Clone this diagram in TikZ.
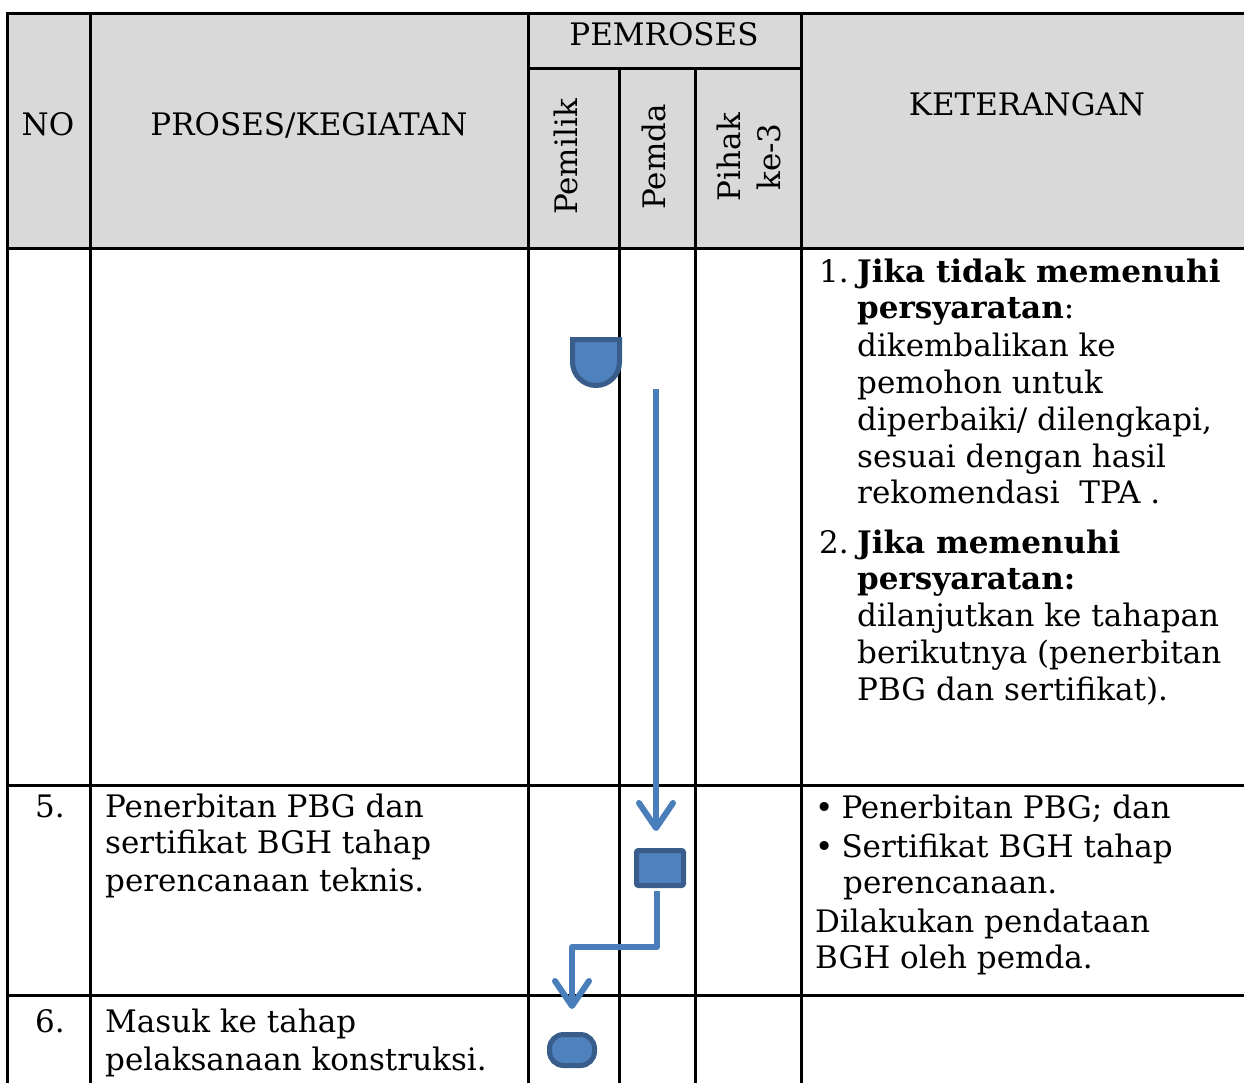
\documentclass[tikz,border=0pt]{standalone}
\usepackage{fontspec}
\setmainfont{DejaVu Serif}
\usetikzlibrary{arrows.meta}
\definecolor{hdr}{HTML}{D9D9D9}
\definecolor{shfill}{HTML}{4F81BD}
\definecolor{shline}{HTML}{385D8A}
\definecolor{conn}{HTML}{4A7EBB}
\begin{document}
\begin{tikzpicture}[x=1pt,y=-1pt,
  grid/.style={line width=3pt, black, line cap=rect},
  txt/.style={anchor=base west, inner sep=0pt, font=\fontsize{31}{37}\selectfont},
  ctxt/.style={anchor=base, inner sep=0pt, font=\fontsize{31}{37}\selectfont},
  rtxt/.style={anchor=base, inner sep=0pt, rotate=90, font=\fontsize{31}{37}\selectfont},
  shp/.style={draw=shline, fill=shfill, line width=5pt},
  flow/.style={draw=conn, line width=6pt, line join=round,
    -{Straight Barb[length=25pt, width=34pt, round]}}]
\useasboundingbox (0,0) rectangle (1244,1082);
% header background
\fill[hdr] (7,13) rectangle (1244,248);
% grid lines
\draw[grid] (7,13) -- (1244,13);
\draw[grid] (528,68) -- (801,68);
\draw[grid] (7,248) -- (1244,248);
\draw[grid] (7,785) -- (1244,785);
\draw[grid] (7,995) -- (1244,995);
\draw[grid] (7,13) -- (7,1082);
\draw[grid] (90,13) -- (90,1082);
\draw[grid] (528,13) -- (528,1082);
\draw[grid] (619,68) -- (619,1082);
\draw[grid] (695,68) -- (695,1082);
\draw[grid] (801,13) -- (801,1082);
% header texts
\node[ctxt] (no) at (48,135) {NO};
\node[ctxt] (proses) at (309,135) {PROSES/KEGIATAN};
\node[ctxt] (pemroses) at (664,45) {PEMROSES};
\node[ctxt] (ket) at (1027,115) {KETERANGAN};
\node[rtxt] (pemilik) at (577,157) {Pemilik};
\node[rtxt] (pemda) at (665,157) {Pemda};
\node[rtxt] (pihak) at (740,157) {Pihak};
\node[rtxt] (ke3) at (780,157) {ke-3};
% right column, row 4
\node[txt] (n1) at (819,282) {1.};
\node[txt] (a1) at (857,282) {\bfseries Jika tidak memenuhi};
\node[txt] (a2) at (857,318) {\textbf{persyaratan}:};
\node[txt] (a3) at (857,356) {dikembalikan ke};
\node[txt] (a4) at (857,393) {pemohon untuk};
\node[txt] (a5) at (857,430) {diperbaiki/ dilengkapi,};
\node[txt] (a6) at (857,467) {sesuai dengan hasil};
\node[txt] (a7) at (857,503) {rekomendasi\ \ TPA .};
\node[txt] (n2) at (819,553) {2.};
\node[txt] (b1) at (857,553) {\bfseries Jika memenuhi};
\node[txt] (b2) at (857,589) {\bfseries persyaratan:};
\node[txt] (b3) at (857,626) {dilanjutkan ke tahapan};
\node[txt] (b4) at (857,663) {berikutnya (penerbitan};
\node[txt] (b5) at (857,700) {PBG dan sertifikat).};
% row 5
\node[txt] (no5) at (35,817) {5.};
\node[txt] (p5a) at (105,817) {Penerbitan PBG dan};
\node[txt] (p5b) at (105,853) {sertifikat BGH tahap};
\node[txt] (p5c) at (105,891) {perencanaan teknis.};
\node[txt] (k5a) at (815,818) {\textbullet\hspace{8pt}Penerbitan PBG; dan};
\node[txt] (k5b) at (815,857) {\textbullet\hspace{8pt}Sertifikat BGH tahap};
\node[txt] (k5c) at (843,893) {perencanaan.};
\node[txt] (k5d) at (815,932) {Dilakukan pendataan};
\node[txt] (k5e) at (815,968) {BGH oleh pemda.};
% row 6
\node[txt] (no6) at (35,1032) {6.};
\node[txt] (p6a) at (105,1032) {Masuk ke tahap};
\node[txt] (p6b) at (105,1070) {pelaksanaan konstruksi.};
% flow shapes
\draw[shp] (572.5,339.5) -- (619.5,339.5) -- (619.5,362)
  arc[start angle=0, end angle=180, radius=23.5] -- cycle;
\node[shp, minimum width=47pt, minimum height=35pt, rounded corners=2pt, inner sep=0pt] (rect) at (660,868) {};
\node[shp, minimum width=45pt, minimum height=31pt, rounded corners=14pt, inner sep=0pt] (term) at (572,1050) {};
% connectors
\coordinate (src) at (656,389);
\coordinate (bend) at (572,947);
\draw[flow, shorten >=17pt] (src) -- (src |- rect.north);
\draw[flow, shorten >=23pt, shorten <=2.5pt] ([xshift=-3pt]rect.south) |- (bend) -- (term.north);
\end{tikzpicture}
\end{document}
